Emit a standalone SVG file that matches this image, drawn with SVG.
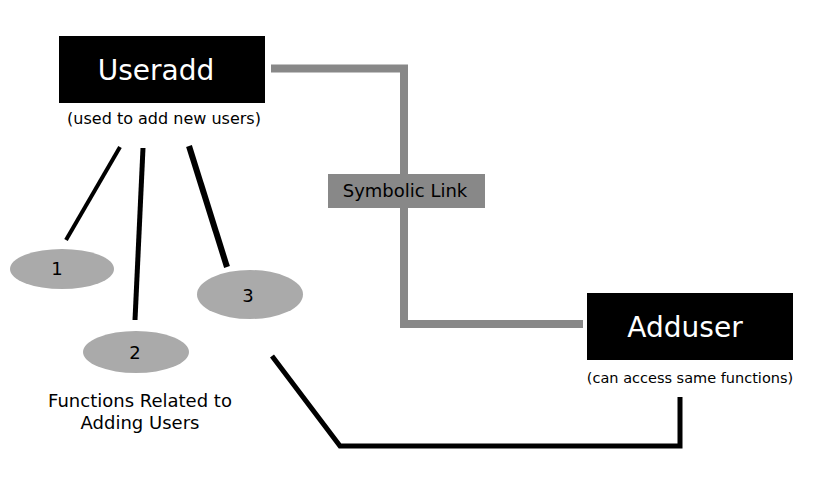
<svg xmlns="http://www.w3.org/2000/svg" width="825" height="477" viewBox="0 0 825 477">
<style>
text{font-family:"DejaVu Sans",sans-serif;text-anchor:middle}
.box{fill:#000}
.title{fill:#fff;font-size:28px}
.cap{fill:#000;font-size:14.5px}
.ell{fill:#aaa}
.num{fill:#000;font-size:18px}
.lbl{fill:#000;font-size:18px}
.gray{fill:none;stroke:#888;stroke-width:8}
.blk{fill:none;stroke:#000;stroke-width:5}
</style>
<rect width="825" height="477" fill="#fff"/>
<g id="connectors">
<polyline class="gray" points="271,68.5 404,68.5 404,324 583,324"/>
<polyline class="blk" points="272,356 340,446 680,446 680,397"/>
<line x1="120" y1="147" x2="66" y2="240" stroke="#000" stroke-width="4"/>
<line x1="143" y1="148" x2="135" y2="320" stroke="#000" stroke-width="5"/>
<line x1="189" y1="146" x2="227" y2="267" stroke="#000" stroke-width="6"/>
</g>
<g id="symlink">
<rect x="328" y="174" width="157" height="34" fill="#888"/>
<text class="lbl" x="405" y="197">Symbolic Link</text>
</g>
<g id="useradd">
<rect class="box" x="59" y="36" width="206" height="67"/>
<text class="title" x="156" y="80">Useradd</text>
<text class="cap" x="164" y="124" style="font-size:16px">(used to add new users)</text>
</g>
<g id="adduser">
<rect class="box" x="587" y="293" width="206" height="67"/>
<text class="title" x="685" y="337">Adduser</text>
<text class="cap" x="690" y="383">(can access same functions)</text>
</g>
<g id="f1">
<ellipse class="ell" cx="62" cy="269" rx="52" ry="20"/>
<text class="num" x="57" y="275">1</text>
</g>
<g id="f2">
<ellipse class="ell" cx="136" cy="352" rx="53" ry="21"/>
<text class="num" x="135" y="359">2</text>
</g>
<g id="f3">
<ellipse class="ell" cx="250" cy="294.5" rx="53" ry="24.5"/>
<text class="num" x="248" y="301.5">3</text>
</g>
<g id="label">
<text class="lbl" x="140" y="406.5">Functions Related to</text>
<text class="lbl" x="140" y="428.5">Adding Users</text>
</g>
</svg>
